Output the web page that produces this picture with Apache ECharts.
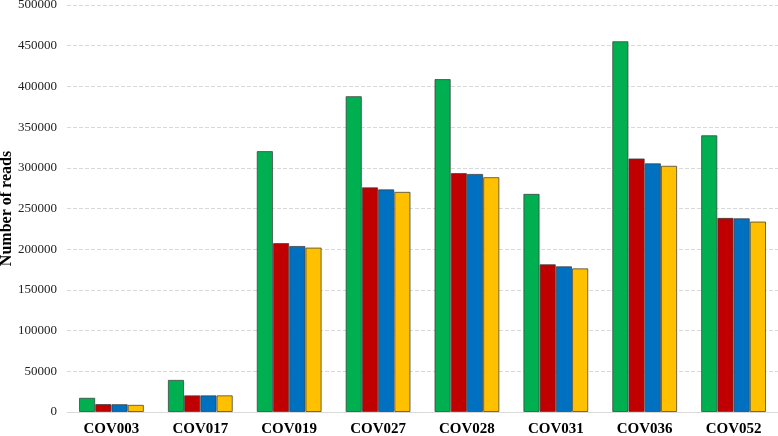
<!DOCTYPE html>
<html>
<head>
    <meta charset="UTF-8">
    <title>Number of reads</title>
    <style>
        body { margin: 0; background: #fff; }
    </style>
</head>
<body>
    <div id="main" style="width: 778px;height:436px;"></div>
    <script src="https://cdn.jsdelivr.net/npm/echarts@6/dist/echarts.min.js"></script>
    <script type="text/javascript">
        // samples on the x axis
        var samples = ['COV003', 'COV017', 'COV019', 'COV027', 'COV028', 'COV031', 'COV036', 'COV052'];
        // four read counts per sample
        var readsA = [17500, 39500, 320500, 388000, 409000, 268000, 455500, 340000];
        var readsB = [9800, 20500, 207500, 276000, 293500, 181500, 311500, 238500];
        var readsC = [9600, 20500, 204000, 273500, 292500, 179000, 305500, 238000];
        var readsD = [8800, 20500, 202000, 270500, 288500, 176500, 302500, 234000];
        var barColors = ['#00B050', '#C00000', '#0070C0', '#FFC000'];

        var myChart = echarts.init(document.getElementById('main'));

        var seriesData = [readsA, readsB, readsC, readsD];
        var series = seriesData.map(function (d, i) {
            return {
                type: 'bar',
                data: d,
                barGap: '0%',
                barCategoryGap: '27%',
                itemStyle: {
                    color: barColors[i],
                    borderColor: 'rgba(60,60,60,0.75)',
                    borderWidth: 1
                }
            };
        });

        myChart.setOption({
            animation: false,
            grid: { left: 67, right: 0, top: 5, bottom: 24, outerBoundsMode: 'none' },
            xAxis: {
                type: 'category',
                data: samples,
                axisLine: { lineStyle: { color: '#d9d9d9' } },
                axisTick: { show: false },
                axisLabel: {
                    fontFamily: 'Liberation Serif',
                    fontWeight: 'bold',
                    fontSize: 15,
                    color: '#000',
                    margin: 10
                }
            },
            yAxis: {
                type: 'value',
                min: 0,
                max: 500000,
                interval: 50000,
                name: 'Number of reads',
                nameLocation: 'middle',
                nameGap: 52,
                nameMoveOverlap: false,
                nameTextStyle: {
                    fontFamily: 'Liberation Serif',
                    fontWeight: 'bold',
                    fontSize: 16,
                    color: '#000'
                },
                axisLine: { show: false },
                axisTick: { show: false },
                axisLabel: {
                    fontFamily: 'Liberation Serif',
                    fontSize: 13,
                    color: '#222',
                    margin: 10,
                    formatter: function (v) { return String(v); }
                },
                splitLine: { lineStyle: { color: '#d9d9d9', type: 'dashed' } }
            },
            series: series
        });
    </script>
</body>
</html>
